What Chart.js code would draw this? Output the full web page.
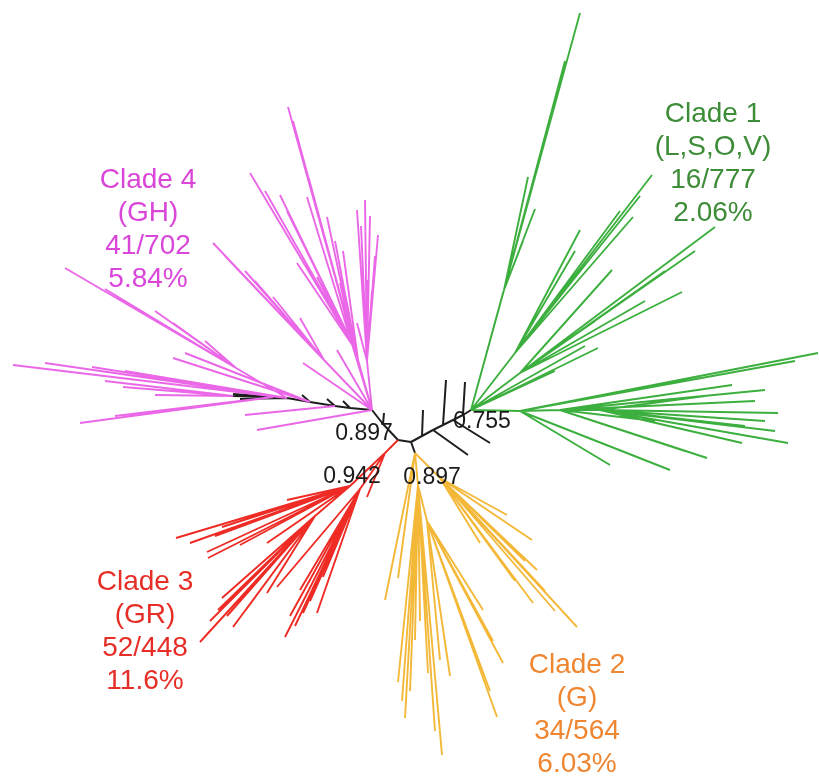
<!DOCTYPE html>
<html>
<head>
<meta charset="utf-8">
<title>Unrooted tree of clades</title>
<script src="https://cdn.jsdelivr.net/npm/chart.js@4/dist/chart.umd.min.js"></script>
<style>
  html, body { margin: 0; padding: 0; background: #ffffff; }
  canvas { display: block; }
</style>
</head>
<body>
<canvas id="tree" width="819" height="776"></canvas>
<script>
// Clade summary values
const cladeNames   = ['Clade 1', 'Clade 2', 'Clade 3', 'Clade 4'];
const cladeGroups  = ['(L,S,O,V)', '(G)', '(GR)', '(GH)'];
const cladeHits    = [16, 34, 52, 41];
const cladeTotals  = [777, 564, 448, 702];
// Bootstrap support at the main internal nodes
const supportValues = ['0.897', '0.942', '0.897', '0.755'];

// Tree layout in branch-length units, origin at the central node.
// Each node: [parent, x, y]. Backbone parents are backbone indices.
const backboneNodes = [
  [-1, -7, 1],      // 0 central node A
  [0, 6, -1],       // 1 central node B
  [0, -22, 17],     // 2
  [2, -33, 31],     // 3 clade 4 root
  [1, 17, 5],       // 4
  [4, 28, 11],      // 5
  [5, 38, 16],      // 6
  [6, 48, 21],      // 7
  [7, 58, 26],      // 8
  [8, 66, 31],      // 9 clade 1 root
  [4, 18, 31],      // 10
  [6, 41, 61],      // 11
  [8, 60, 59],      // 12
  [5, 63, -14],     // 13
  [7, 85, -2],      // 14
  [1, 10, -12],     // 15 clade 2 root
  [3, -55, 33],     // 16
  [16, -70, 35],    // 17
  [17, -95, 39],    // 18
  [18, -118, 43],   // 19
  [19, -132, 44],   // 20
  [20, -172, 45],   // 21
  [16, -62, 40],    // 22
  [17, -78, 42],    // 23
  [18, -103, 46],   // 24
  [19, -172, 47],   // 25
  [19, -165, 42],   // 26
  [19, -150, 46],   // 27
  [2, -21, 28]      // 28
];

// Clade nodes: parent is a local index, or 'bN' for backbone node N.
const clade1Nodes = [
  ['b9', 115, 30],   // 0
  [0, 155, 31],      // 1
  [1, 195, 31],      // 2
  ['b9', 99, 151],   // 3
  ['b9', 110, 88],   // 4
  ['b9', 115, 68],   // 5
  [3, 175, 428], [3, 123, 264], [3, 130, 232], [3, 118, 200], ['b9', 98, 148],
  [3, 160, 380], [3, 150, 340],
  [4, 247, 266], [4, 228, 224], [4, 175, 211], [4, 170, 190], [4, 200, 205],
  [4, 235, 245], [4, 215, 230],
  [5, 310, 214], [5, 277, 149], [5, 207, 171], [5, 240, 140], [5, 190, 120],
  [5, 290, 190], [5, 260, 170],
  ['b9', 193, 93], ['b9', 180, 95], ['b9', 150, 70],
  [0, 413, 88], [0, 205, -24], [0, 265, -29], [0, 390, 80],
  [1, 360, 51], [1, 327, 56], [1, 302, -17], [1, 250, 20], [1, 350, 40], [1, 280, -10],
  [2, 373, 28], [2, 383, -2], [2, 337, -2], [2, 300, 45], [2, 340, 15], [2, 360, 20], [2, 370, 10]
];

const clade2Nodes = [
  ['b15', 13, -44],  // 0
  ['b15', 35, -37],  // 1
  [0, 22, -80],      // 2
  ['b15', -20, -159], ['b15', -7, -137],
  [0, -7, -241], [0, 0, -277], [0, 37, -314], [0, 23, -232], [0, 10, -199], [0, 15, -180],
  [0, -3, -260], [0, 5, -250], [0, 30, -290],
  [2, 35, -219], [2, 92, -276], [2, 98, -222], [2, 78, -169], [2, 60, -150],
  [2, 45, -235], [2, 85, -250], [2, 88, -200],
  [1, 172, -186], [1, 128, -162], [1, 132, -129], [1, 127, -99], [1, 102, -74], [1, 75, -102], [1, 110, -140],
  [1, 150, -170], [1, 140, -150], [1, 120, -120], [1, 95, -95]
];

const clade3Nodes = [
  ['b0', -20, -12],  // 0
  [0, -55, -45],     // 1
  [0, -45, -48],     // 2
  [0, -38, -56],     // 3
  [1, -90, -75],     // 4
  [1, -229, -97], [1, -198, -111], [1, -197, -117], [1, -183, -86], [1, -165, -104],
  [1, -118, -59], [1, -138, -102], [1, -215, -102], [1, -190, -95],
  [4, -183, -157], [4, -187, -169], [4, -205, -201], [4, -172, -186], [4, -155, -140], [4, -138, -152],
  [4, -195, -180], [4, -160, -170], [4, -178, -175],
  [2, -120, -196], [2, -88, -172], [2, -82, -136], [2, -105, -149], [2, -102, -172], [2, -128, -146],
  [2, -110, -185], [2, -95, -160], [2, -115, -175]
];

const clade4Nodes = [
  ['b3', -50, 92],   // 0
  ['b3', -46, 74],   // 1
  ['b3', -38, 80],   // 2
  ['b3', -81, 81],   // 3
  ['b19', -169, 73], // 4
  [0, -117, 334], [0, -155, 268], [0, -125, 246], [0, -96, 262], [0, -108, 178], [0, -88, 164],
  [0, -112, 320], [0, -140, 250], [0, -118, 230],
  [1, -98, 244], [1, -78, 224], [1, -65, 158], [1, -58, 138], [1, -62, 190],
  [1, -88, 232], [1, -70, 200],
  [2, -48, 231], [2, -40, 241], [2, -27, 206], [2, -38, 161], [2, -48, 118], [2, -33, 150],
  [2, -44, 215], [2, -35, 225], [2, -30, 185],
  [3, -192, 198], [3, -132, 144], [3, -105, 123], [3, -150, 160], [3, -180, 185], [3, -160, 170],
  ['b3', -102, 78], ['b3', -68, 91], ['b3', -148, 11],
  [4, -340, 173], [4, -232, 118], [4, -268, 131], [4, -200, 100], [4, -300, 152], [4, -250, 130],
  ['b18', -220, 88], ['b18', -232, 83],
  ['b19', -392, 76], ['b19', -313, 74], ['b19', -360, 78], ['b19', -280, 70],
  ['b21', -282, 54], ['b21', -250, 46], ['b21', -300, 60],
  ['b20', -325, 18], ['b20', -290, 25], ['b17', -160, 26]
];

const backbonePts = backboneNodes.map(n => ({ x: n[1], y: n[2] }));

function edgesToPoints(nodes, isBackbone) {
  const local = nodes.map(n => ({ x: n[1], y: n[2] }));
  const out = [];
  nodes.forEach((n, i) => {
    const p = n[0];
    let from;
    if (typeof p === 'string') from = backbonePts[+p.slice(1)];
    else if (p >= 0) from = isBackbone ? backbonePts[p] : local[p];
    if (!from) return;
    out.push({ x: from.x, y: from.y }, { x: local[i].x, y: local[i].y }, { x: null, y: null });
  });
  return out;
}

function branchSet(nodes, color, isBackbone) {
  return {
    data: edgesToPoints(nodes, isBackbone),
    showLine: true,
    spanGaps: false,
    borderColor: color,
    borderWidth: isBackbone ? 2 : 1.9,
    borderCapStyle: 'butt',
    borderJoinStyle: 'round',
    pointRadius: 0,
    pointHoverRadius: 0,
    fill: false
  };
}

const lineColors = { c1: '#3caf3e', c2: '#f4b838', c3: '#ee2b24', c4: '#ea68e7', stem: '#1e1e1e' };
const textColors = ['#3d8c37', '#ef8632', '#e62e26', '#d946d9'];

// Text placed in tree units (label block centres and support positions)
const labelAnchors = [[308, 329], [172, -222], [-260, -139], [-257, 263]];
const supportAnchors = [[-41, 9], [-53, -34], [27, -35], [77, 21]];

const textPlugin = {
  id: 'treeText',
  afterDatasetsDraw(chart) {
    const { ctx, scales } = chart;
    const xs = scales.x, ys = scales.y;
    ctx.save();
    ctx.textAlign = 'center';
    ctx.textBaseline = 'alphabetic';
    const big = 28, lineStep = 33;
    ctx.font = big + 'px "Liberation Sans", Arial, sans-serif';
    cladeNames.forEach((name, i) => {
      const pct = (100 * cladeHits[i] / cladeTotals[i]).toPrecision(3) + '%';
      const rows = [name, cladeGroups[i], cladeHits[i] + '/' + cladeTotals[i], pct];
      const cx = xs.getPixelForValue(labelAnchors[i][0]);
      const cy = ys.getPixelForValue(labelAnchors[i][1]);
      ctx.fillStyle = textColors[i];
      rows.forEach((r, k) => ctx.fillText(r, cx, cy + k * lineStep + big * 0.36));
    });
    const small = 23;
    ctx.font = small + 'px "Liberation Sans", Arial, sans-serif';
    ctx.fillStyle = '#1a1a1a';
    supportValues.forEach((v, i) => {
      const cx = xs.getPixelForValue(supportAnchors[i][0]);
      const cy = ys.getPixelForValue(supportAnchors[i][1]);
      ctx.fillText(v, cx, cy + small * 0.36);
    });
    ctx.restore();
  }
};

new Chart(document.getElementById('tree'), {
  type: 'scatter',
  data: {
    datasets: [
      branchSet(clade4Nodes, lineColors.c4, false),
      branchSet(clade3Nodes, lineColors.c3, false),
      branchSet(clade2Nodes, lineColors.c2, false),
      branchSet(clade1Nodes, lineColors.c1, false),
      branchSet(backboneNodes, lineColors.stem, true)
    ]
  },
  options: {
    responsive: false,
    animation: false,
    devicePixelRatio: 1,
    events: [],
    layout: { padding: 0 },
    plugins: { legend: { display: false }, tooltip: { enabled: false }, title: { display: false } },
    scales: {
      x: { type: 'linear', min: -405, max: 414, display: false },
      y: { type: 'linear', min: -335, max: 441, display: false }
    }
  },
  plugins: [textPlugin]
});
</script>
</body>
</html>
